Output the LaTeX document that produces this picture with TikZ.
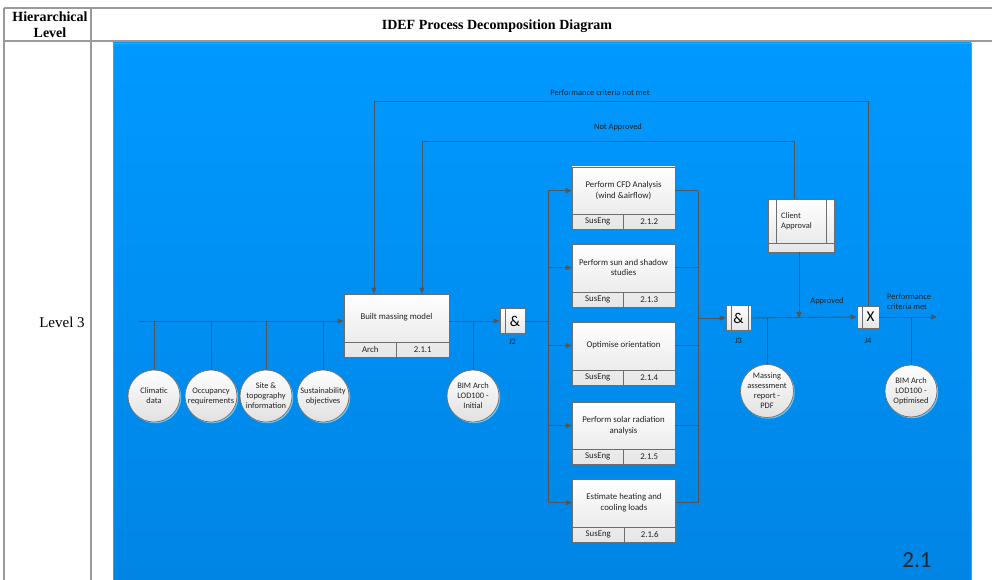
\documentclass[tikz,border=0pt]{standalone}
\usepackage{fontspec}
\setmainfont{Liberation Serif}
\newfontfamily\diagfont{Carlito}
\usetikzlibrary{arrows.meta,shadows,calc}

\definecolor{wire}{HTML}{555555}
\definecolor{rulegray}{HTML}{9A9A9A}
\definecolor{skytop}{HTML}{0099FF}
\definecolor{skybot}{HTML}{0085E4}
\definecolor{boxedge}{HTML}{6E6E6E}
\definecolor{ink}{HTML}{222222}

\tikzset{
  wire/.style={draw=wire, line width=0.9pt},
  flow/.style={wire, -{Triangle[width=5pt,length=6pt]}},
  boxline/.style={draw=boxedge, line width=0.6pt},
  procbox/.style={rectangle, draw=boxedge, line width=0.7pt, inner sep=0pt,
    top color=white, bottom color=black!10,
    drop shadow={shadow xshift=1pt, shadow yshift=-1pt, opacity=0.3}},
  lbl/.style={font=\diagfont\fontsize{8.8}{10.4}\selectfont, text=ink, align=center, inner sep=0pt},
  small/.style={font=\diagfont\fontsize{8.4}{10}\selectfont, text=ink, align=center, inner sep=0pt},
  store/.style={circle, minimum size=52pt, inner sep=0pt, draw=boxedge, line width=0.7pt,
    top color=white, bottom color=black!12, align=center,
    font=\diagfont\fontsize{8.4}{10}\selectfont, text=ink,
    drop shadow={fill=cyan!45!white, opacity=0.8, shadow xshift=1.2pt, shadow yshift=-1.2pt}},
  junction/.style={rectangle, minimum size=25pt, inner sep=0pt, draw=boxedge, line width=0.7pt,
    top color=white, bottom color=black!10, font=\diagfont\fontsize{15}{15}\selectfont, text=black,
    drop shadow={shadow xshift=1pt, shadow yshift=-1pt, opacity=0.3}},
  tablerule/.style={draw=rulegray, line width=1.5pt},
}

% process box: name, centre x, centre y, width, height, title, role, number
\newcommand\idefbox[8]{%
  \node[procbox, minimum width=#4, minimum height=#5] (#1) at (#2,#3) {};
  \draw[boxline] ([yshift=15pt]#1.south west) -- ([yshift=15pt]#1.south east);
  \draw[boxline] (#1.south) -- ([yshift=15pt]#1.south);
  \node[lbl] (#1-t) at ([yshift=-24pt]#1.north) {#6};
  \node[lbl] (#1-r) at ([xshift=-#4/4, yshift=7.5pt]#1.south) {#7};
  \node[lbl] (#1-n) at ([xshift=#4/4, yshift=7.5pt]#1.south) {#8};
}

\begin{document}
\begin{tikzpicture}[x=1pt, y=-1pt]
  \useasboundingbox (0,0) rectangle (992,580);
  \fill[white] (0,0) rectangle (992,580);

  % table frame
  \draw[tablerule] (4,8) -- (992,8);
  \draw[tablerule] (4,41) -- (992,41);
  \draw[tablerule] (4,8) -- (4,580);
  \draw[tablerule] (91,8) -- (91,580);
  \node[font=\bfseries\fontsize{14}{16}\selectfont, align=center, inner sep=0pt] (hdrlevel) at (50,25) {Hierarchical\\Level};
  \node[font=\bfseries\fontsize{14}{16}\selectfont, inner sep=0pt] (hdrtitle) at (497,26) {IDEF Process Decomposition Diagram};
  \node[font=\fontsize{15}{17}\selectfont, inner sep=0pt] (level) at (62,322) {Level 3};

  % blue canvas
  \shade[top color=skytop, bottom color=skybot] (113,43) rectangle (971,580);
  \draw[draw=black!45, line width=0.8pt] (113,580) -- (113,43) -- (971,43) -- (971,580);

  % activities
  \idefbox{m}{396.5}{325.5}{105pt}{63pt}{Built massing model}{Arch}{2.1.1}
  \idefbox{p1}{623.5}{198}{103pt}{62pt}{Perform CFD Analysis\\(wind \&airflow)}{SusEng}{2.1.2}
  \idefbox{p2}{623.5}{275.5}{103pt}{63pt}{Perform sun and shadow\\studies}{SusEng}{2.1.3}
  \idefbox{p3}{623.5}{353.5}{103pt}{63pt}{Optimise orientation}{SusEng}{2.1.4}
  \idefbox{p4}{623.5}{433}{103pt}{62pt}{Perform solar radiation\\analysis}{SusEng}{2.1.5}
  \idefbox{p5}{624}{510.5}{103pt}{63pt}{Estimate heating and\\cooling loads}{SusEng}{2.1.6}

  % client approval
  \node[procbox, minimum width=66pt, minimum height=53pt] (ca) at (801,225.5) {};
  \draw[boxline] ([yshift=9pt]ca.south west) -- ([yshift=9pt]ca.south east);
  \draw[boxline] ([xshift=9pt]ca.north west) -- ([xshift=9pt, yshift=9pt]ca.south west);
  \draw[boxline] ([xshift=-8pt]ca.north east) -- ([xshift=-8pt, yshift=9pt]ca.south east);
  \node[small, align=left, anchor=west] (ca-t) at (781,221) {Client\\Approval};

  % junctions
  \node[junction] (j2) at (512.5,321) {\hspace*{5pt}\&};
  \draw[boxline] ([xshift=6pt]j2.north west) -- ([xshift=6pt]j2.south west);
  \node[small] (j2l) at ([yshift=-8pt]j2.south) {J2};
  \node[junction] (j3) at (738.5,318) {\&};
  \draw[boxline] ([xshift=6pt]j3.north west) -- ([xshift=6pt]j3.south west);
  \draw[boxline] ([xshift=-3pt]j3.north east) -- ([xshift=-3pt]j3.south east);
  \node[small] (j3l) at ([yshift=-10pt]j3.south) {J3};
  \node[junction, minimum size=22pt] (j4) at (868,317) {\hspace*{5pt}X};
  \draw[boxline] ([xshift=6pt]j4.north west) -- ([xshift=6pt]j4.south west);
  \node[small] (j4l) at ([yshift=-12pt]j4.south) {J4};

  % data stores
  \node[store] (c1) at (154,396) {Climatic\\data};
  \node[store] (c2) at (211,396) {Occupancy\\requirements};
  \node[store] (c3) at (266,396) {Site \&\\topography\\information};
  \node[store] (c4) at (323,396) {Sustainability\\objectives};
  \node[store] (b1) at (473,396) {BIM Arch\\LOD100 -\\Initial};
  \node[store] (cm) at (767,391) {Massing\\assessment\\report -\\PDF};
  \node[store] (co) at (911,391) {BIM Arch\\LOD100 -\\Optimised};

  % inputs to the massing model
  \coordinate (in0) at (138,321);
  \draw[flow] (in0) -- (in0 -| m.west);
  \foreach \c in {c1,c2,c3,c4} \draw[wire] (\c.north) -- (\c.north |- in0);

  % massing model to J2 and the parallel studies
  \draw[flow] (m.east |- j2) -- (j2.west);
  \draw[wire] (b1.north) -- (b1.north |- j2);
  \coordinate (busL) at (548,321);
  \coordinate (busR) at (698,318);
  \draw[wire] (j2.east) -- (busL);
  \draw[wire] (busL |- p1-t) -- (busL |- p5-t);
  \draw[wire] (busR |- p1-t) -- (busR |- p5-t);
  \foreach \p in {p1,p2,p3,p4,p5} {
    \draw[flow] (busL |- \p-t) -- (\p.west |- \p-t);
    \draw[wire] (\p.east |- \p-t) -- (busR |- \p-t);
  }

  % J3 onwards
  \draw[flow] (busR) -- (j3.west);
  \draw[wire] (cm.north) -- (cm.north |- j3);
  \draw[flow] (j3.east) -- (j4.west);
  \draw[flow] ([xshift=-2pt]ca.south) -- ([xshift=-2pt]ca.south |- j3);
  \node[small] (appr) at (827,301) {Approved};
  \coordinate (out) at (937,317);
  \draw[flow] (j4.east) -- (out);
  \draw[wire] (co.north) -- (co.north |- j4);
  \node[small, align=left, anchor=west] (met) at (887,302) {Performance\\criteria met};

  % feedback loops
  \coordinate (na) at (422,141);
  \coordinate (pn) at (374,101);
  \draw[flow] ([xshift=-7pt]ca.north) |- (na) -- (na |- m.north);
  \draw[flow] (j4.north) |- (pn) -- (pn |- m.north);
  \node[small] (nalbl) at (618,127) {Not Approved};
  \node[small] (pnlbl) at (600,93) {Performance criteria not met};

  % sheet number
  \node[font=\diagfont\fontsize{23}{23}\selectfont, text=black!85, inner sep=0pt] (sheet) at (917,560) {2.1};
\end{tikzpicture}
\end{document}
